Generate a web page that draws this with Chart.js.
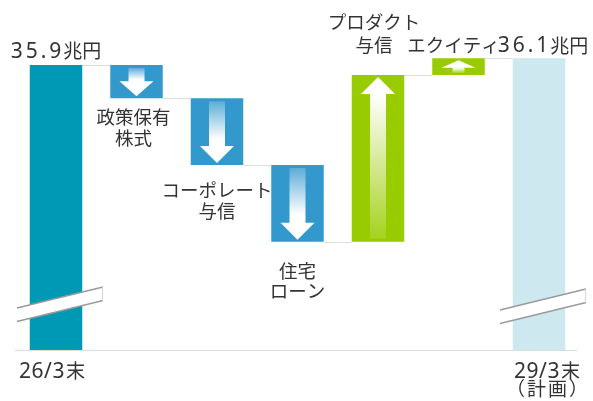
<!DOCTYPE html>
<html>
<head>
<meta charset="utf-8">
<script src="https://cdn.jsdelivr.net/npm/chart.js@4"></script>
<style>
  html, body { margin: 0; padding: 0; background: #ffffff; }
  #wrap { width: 593px; height: 401px; }
</style>
</head>
<body>
<div id="wrap"><canvas id="c" width="593" height="401"></canvas></div>
<script>
// ---- data (兆円) ----
const categories = ['26/3末', '政策保有株式', 'コーポレート与信', '住宅ローン', 'プロダクト与信', 'エクイティ', '29/3末(計画)'];
const startTotal = 35.9;
const endTotal = 36.1;
const changes = [-1.0, -2.0, -2.3, 5.0, 0.5];   // 政策保有株式, コーポレート与信, 住宅ローン, プロダクト与信, エクイティ
const brokenAxisMin = 27.35;                     // value at the (broken) baseline
const axisMax = 37.25;
const labelLines = [
  [startTotal.toFixed(1) + '兆円'],
  ['政策保有', '株式'],
  ['コーポレート', '与信'],
  ['住宅', 'ローン'],
  ['プロダクト', '与信'],
  ['エクイティ'],
  [endTotal.toFixed(1) + '兆円']
];
const tickLabels = [['26/3末'], [], [], [], [], [], ['29/3末', '(計画)']];

// ---- build floating bars from the values ----
const ranges = [];
const levels = [];
ranges.push([brokenAxisMin, startTotal]);
let run = startTotal;
levels.push(run);
changes.forEach(d => {
  const next = Math.round((run + d) * 100) / 100;
  ranges.push([Math.min(run, next), Math.max(run, next)]);
  run = next;
  levels.push(run);
});
ranges.push([brokenAxisMin, endTotal]);
levels.push(endTotal);
const kinds = ['total'].concat(changes.map(d => d < 0 ? 'down' : 'up')).concat(['plan']);

// ---- styles ----
const colorFor = { total: '#0099b5', down: '#3399cc', up: '#99cc00', plan: '#cde9ef' };
const TEXT = '#333333';
const CJK = '"Noto Sans CJK JP", "Noto Sans", sans-serif';
const NUM = '"Noto Sans", "Noto Sans CJK JP", sans-serif';
// label placement: anchor to bar top/bottom, dy to the middle of the nearest line
const labelPlace = [
  { anchor: 'top', dx: 0, dy: -14 },
  { anchor: 'bottom', dx: -3, dy: 19 },
  { anchor: 'bottom', dx: 0, dy: 25 },
  { anchor: 'bottom', dx: 0, dy: 29 },
  { anchor: 'top', dx: -4, dy: -30, lh: 23 },
  { anchor: 'top', dx: -5, dy: -13 },
  { anchor: 'top', dx: 4, dy: -13 }
];
const tickPlace = [{ dx: -4, y: 371 }, null, null, null, null, null, { dx: 8, y: 371 }];

// draw a string where the numeric part uses a latin font with spacing
function segmentsFor(str) {
  const m = str.match(/^([0-9./]+)(.*)$/);
  if (!m) return [{ t: str, font: '18.5px ' + CJK, ls: 0 }];
  const big = str.indexOf('兆') >= 0;
  const segs = [{ t: m[1], font: '21px ' + NUM, ls: big ? 3 : 0.5 }];
  if (m[2]) segs.push({ t: m[2], font: '19px ' + CJK, ls: 0, gap: big ? -1 : 1 });
  return segs;
}
function measureSeg(ctx, s) {
  ctx.font = s.font;
  ctx.letterSpacing = s.ls + 'px';
  const w = ctx.measureText(s.t).width;
  ctx.letterSpacing = '0px';
  return w + (s.gap || 0);
}
function drawMixed(ctx, str, cx, cy) {
  const segs = segmentsFor(str);
  const widths = segs.map(s => measureSeg(ctx, s));
  const total = widths.reduce((a, b) => a + b, 0);
  let x = cx - total / 2;
  ctx.textAlign = 'left';
  ctx.textBaseline = 'middle';
  ctx.fillStyle = TEXT;
  segs.forEach((s, i) => {
    x += (s.gap || 0);
    ctx.font = s.font;
    ctx.letterSpacing = s.ls + 'px';
    ctx.fillText(s.t, x, cy + (s.font.indexOf('21px') === 0 ? 1 : 0));
    ctx.letterSpacing = '0px';
    x += widths[i] - (s.gap || 0);
  });
}

const decorPlugin = {
  id: 'decor',
  beforeDatasetsDraw(chart) {
    const ctx = chart.ctx;
    const meta = chart.getDatasetMeta(0);
    const y = chart.scales.y;
    ctx.save();
    ctx.strokeStyle = '#dedede';
    ctx.lineWidth = 1;
    for (let i = 0; i < meta.data.length - 1; i++) {
      const a = meta.data[i], b = meta.data[i + 1];
      const py = Math.round(y.getPixelForValue(levels[i])) + 0.5;
      ctx.beginPath();
      ctx.moveTo(a.x + a.width / 2, py);
      ctx.lineTo(b.x - b.width / 2, py);
      ctx.stroke();
    }
    ctx.restore();
  },
  afterDatasetsDraw(chart) {
    const ctx = chart.ctx;
    const meta = chart.getDatasetMeta(0);
    const area = chart.chartArea;
    ctx.save();
    // arrows inside the change bars
    meta.data.forEach((bar, i) => {
      const k = kinds[i];
      if (k !== 'down' && k !== 'up') return;
      const top = Math.min(bar.y, bar.base), bottom = Math.max(bar.y, bar.base);
      const h = bottom - top, cx = bar.x;
      const headH = Math.min(17, h * 0.45);
      const headHalf = 17;
      const shaftHalf = h < 25 ? 6 : 8;
      const tipM = 2, tailM = h < 25 ? 2 : 3;
      let tip, headBase, tail, g;
      if (k === 'down') {
        tip = bottom - tipM; headBase = tip - headH; tail = top + tailM;
        g = ctx.createLinearGradient(0, tail, 0, headBase);
        g.addColorStop(0, 'rgba(255,255,255,0.2)');
        g.addColorStop(0.85, 'rgba(255,255,255,1)');
        g.addColorStop(1, 'rgba(255,255,255,1)');
        ctx.fillStyle = g;
        ctx.fillRect(cx - shaftHalf, tail, shaftHalf * 2, headBase - tail + 0.5);
      } else {
        tip = top + tipM; headBase = tip + headH; tail = bottom - tailM;
        g = ctx.createLinearGradient(0, headBase, 0, tail);
        g.addColorStop(0, 'rgba(255,255,255,1)');
        g.addColorStop(1, 'rgba(255,255,255,0.12)');
        ctx.fillStyle = g;
        ctx.fillRect(cx - shaftHalf, headBase - 0.5, shaftHalf * 2, tail - headBase + 0.5);
      }
      ctx.fillStyle = '#ffffff';
      ctx.beginPath();
      ctx.moveTo(cx - headHalf, headBase);
      ctx.lineTo(cx + headHalf, headBase);
      ctx.lineTo(cx, tip);
      ctx.closePath();
      ctx.fill();
    });
    // baseline
    ctx.strokeStyle = '#dcdcdc';
    ctx.lineWidth = 1;
    ctx.beginPath();
    ctx.moveTo(area.left - 1, Math.round(area.bottom) + 0.5);
    ctx.lineTo(area.right - 2, Math.round(area.bottom) + 0.5);
    ctx.stroke();
    // axis break marks on the two total bars
    [0, meta.data.length - 1].forEach((idx, n) => {
      const bar = meta.data[idx];
      const x0 = bar.x - 39, x1 = bar.x + 47;
      const yl = area.bottom - (n === 0 ? 42 : 40), yr = yl - 21, t = 13.5;
      ctx.fillStyle = '#ffffff';
      ctx.beginPath();
      ctx.moveTo(x0, yl); ctx.lineTo(x1, yr); ctx.lineTo(x1, yr + t); ctx.lineTo(x0, yl + t);
      ctx.closePath();
      ctx.fill();
      ctx.strokeStyle = '#9a9a9a';
      ctx.lineWidth = 1.3;
      ctx.beginPath();
      ctx.moveTo(x0, yl); ctx.lineTo(x1, yr);
      ctx.moveTo(x0, yl + t); ctx.lineTo(x1, yr + t);
      ctx.stroke();
      ctx.strokeStyle = '#d8d8d8';
      ctx.lineWidth = 1;
      ctx.beginPath();
      ctx.moveTo(x1 - 0.5, yr); ctx.lineTo(x1 - 0.5, yr + t);
      ctx.stroke();
    });
    // category labels near the bars
    meta.data.forEach((bar, i) => {
      const p = labelPlace[i];
      const lines = labelLines[i];
      const lh = p.lh || 20.5;
      const top = Math.min(bar.y, bar.base), bottom = Math.max(bar.y, bar.base);
      const cx = bar.x + p.dx;
      lines.forEach((ln, j) => {
        let cy;
        if (p.anchor === 'top') cy = top + p.dy - (lines.length - 1 - j) * lh;
        else cy = bottom + p.dy + j * lh;
        drawMixed(ctx, ln, cx, cy);
      });
    });
    // x tick labels
    tickLabels.forEach((lines, i) => {
      if (!lines.length) return;
      const p = tickPlace[i];
      const cx = chart.scales.x.getPixelForValue(i) + p.dx;
      lines.forEach((ln, j) => {
        if (ln.charAt(0) === '(') {
          ctx.font = '19px ' + CJK;
          ctx.textAlign = 'center';
          ctx.textBaseline = 'middle';
          ctx.fillStyle = TEXT;
          ctx.letterSpacing = '2px';
          ctx.fillText(ln.replace('(', '（').replace(')', '）'), cx + 1, p.y + j * 18);
          ctx.letterSpacing = '0px';
        } else {
          drawMixed(ctx, ln, cx, p.y + j * 18);
        }
      });
    });
    ctx.restore();
  }
};

new Chart(document.getElementById('c'), {
  type: 'bar',
  data: {
    labels: categories,
    datasets: [{
      data: ranges,
      backgroundColor: kinds.map(k => colorFor[k]),
      borderWidth: 0,
      borderSkipped: false,
      categoryPercentage: 1,
      barPercentage: 0.652
    }]
  },
  options: {
    responsive: false,
    animation: false,
    events: [],
    layout: { padding: { left: 15.75, right: 13.75, top: 20, bottom: 51 } },
    plugins: { legend: { display: false }, tooltip: { enabled: false } },
    scales: {
      x: { display: false },
      y: { display: false, min: brokenAxisMin, max: axisMax }
    }
  },
  plugins: [decorPlugin]
});
</script>
</body>
</html>
